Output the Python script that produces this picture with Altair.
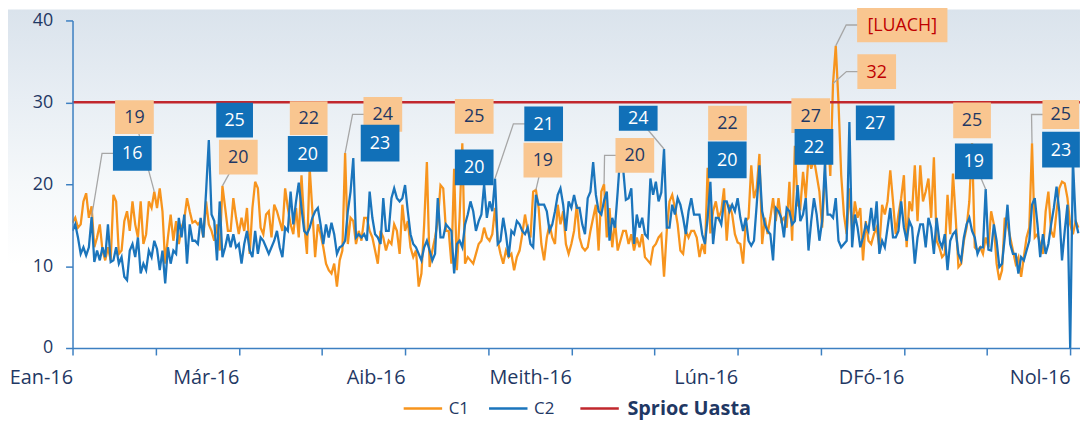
import altair as alt
import pandas as pd

# ---------------- data ----------------
c1 = [
    15.3, 15.9, 14.7, 15.1, 17.9, 18.9, 15.9, 17.3, 12.3, 13.5,
    15.1, 11.9, 10.7, 12.3, 10.7, 18.7, 17.9, 11.5, 11.9, 15.5,
    16.7, 14.3, 17.9, 15.1, 13.5, 17.9, 12.7, 13.9, 17.9, 17.1,
    19.1, 17.1, 19.5, 16.7, 10.3, 13.5, 16.3, 13.1, 15.5, 12.7,
    14.7, 15.7, 18.3, 16.7, 15.3, 15.5, 15.1, 15.5, 13.5, 17.9,
    15.1, 14.3, 13.1, 15.1, 11.9, 19.8, 17.1, 14.3, 14.3, 18.3,
    15.9, 13.9, 15.9, 14.3, 17.1, 11.5, 17.1, 20.3, 19.5, 14.7,
    13.9, 16.3, 16.7, 13.5, 17.5, 16.7, 15.5, 14.3, 19.5, 17.1,
    15.1, 13.9, 17.1, 13.5, 21.1, 15.1, 11.5, 22.0, 16.7, 11.1,
    15.1, 13.9, 12.3, 10.3, 9.5, 9.1, 10.3, 7.5, 10.7, 11.9,
    23.8, 12.7, 15.9, 15.5, 12.7, 14.3, 13.1, 15.9, 15.9, 14.3,
    13.5, 11.9, 10.3, 14.3, 13.5, 11.9, 13.1, 12.7, 15.1, 14.3,
    11.5, 17.5, 14.3, 15.5, 12.3, 11.1, 11.9, 7.5, 9.1, 15.1,
    22.7, 9.9, 11.9, 13.5, 15.5, 19.9, 19.5, 14.3, 14.3, 10.3,
    21.9, 9.5, 15.9, 25.0, 10.3, 11.1, 10.7, 10.3, 11.5, 12.7,
    13.1, 14.7, 13.5, 13.1, 13.9, 17.1, 13.1, 11.5, 10.3, 11.9,
    11.1, 11.5, 9.5, 11.1, 11.9, 13.9, 16.3, 14.3, 13.5, 19.1,
    19.3, 17.1, 12.7, 10.7, 13.5, 15.1, 13.5, 12.7, 17.5, 15.1,
    16.7, 12.7, 11.5, 12.7, 14.3, 17.5, 13.5, 12.3, 11.9, 12.3,
    14.3, 15.9, 17.5, 11.9, 19.1, 20.0, 13.5, 17.1, 12.3, 15.5,
    11.9, 13.1, 14.3, 14.3, 12.7, 13.9, 11.9, 13.5, 12.3, 13.9,
    11.1, 10.7, 10.3, 12.3, 12.7, 13.5, 13.9, 8.7, 14.3, 17.9,
    18.7, 17.1, 15.1, 11.9, 11.5, 14.3, 13.5, 14.3, 14.3, 13.5,
    11.1, 12.7, 11.5, 22.0, 14.0, 16.7, 17.9, 15.9, 16.7, 19.5,
    13.1, 17.5, 16.3, 13.9, 12.9, 12.7, 10.3, 15.5, 15.9, 22.3,
    18.3, 19.5, 23.7, 12.7, 15.9, 13.9, 15.9, 18.3, 15.5, 18.3,
    15.5, 15.9, 14.7, 20.3, 13.1, 24.7, 17.5, 17.1, 21.5, 18.3,
    23.5, 21.9, 23.1, 21.1, 19.1, 14.7, 21.1, 27.4, 21.0, 32.3,
    36.9, 30.0, 21.1, 16.3, 13.9, 19.5, 14.3, 17.9, 15.9, 17.1,
    10.7, 15.5, 13.1, 12.7, 13.9, 14.7, 12.3, 17.5, 16.3, 17.9,
    21.7, 17.9, 13.9, 16.3, 18.3, 21.1, 12.3, 17.9, 16.7, 22.3,
    15.5, 22.3, 17.9, 19.1, 20.7, 15.9, 23.3, 13.1, 12.3, 11.1,
    11.5, 18.7, 13.9, 21.3, 15.9, 9.9, 10.3, 13.1, 14.7, 17.9,
    25.0, 12.3, 11.9, 12.3, 11.5, 13.5, 12.3, 16.7, 15.1, 10.3,
    8.3, 9.5, 15.9, 15.1, 13.5, 11.9, 10.3, 11.1, 8.7, 11.1,
    13.5, 14.7, 25.0, 13.5, 13.9, 12.7, 11.5, 16.7, 19.1, 14.3,
    13.5, 16.7, 19.5, 20.3, 20.1, 18.3, 15.1, 13.9, 15.5, 14.7,
]

c2 = [
    14.3, 15.1, 13.5, 11.5, 12.3, 11.3, 12.3, 16.0, 10.5, 11.9,
    10.7, 12.3, 11.1, 15.1, 10.5, 10.7, 12.3, 10.3, 11.1, 8.7,
    8.3, 11.9, 12.7, 11.1, 13.5, 9.1, 10.3, 9.5, 11.9, 11.1,
    13.1, 12.1, 9.5, 11.9, 7.9, 12.3, 10.3, 11.9, 11.5, 15.9,
    13.5, 16.3, 10.3, 15.1, 13.1, 13.1, 12.7, 15.9, 13.5, 19.1,
    25.4, 16.3, 15.5, 10.7, 17.9, 11.1, 12.3, 13.9, 12.3, 13.9,
    12.3, 12.7, 10.3, 12.7, 14.3, 11.9, 11.1, 14.3, 11.5, 13.5,
    13.1, 12.3, 11.5, 12.3, 13.1, 14.3, 12.3, 11.1, 14.7, 14.3,
    19.1, 15.1, 17.9, 20.2, 17.1, 14.3, 13.9, 14.7, 15.9, 16.7,
    17.1, 15.1, 12.7, 15.1, 13.5, 15.3, 13.9, 11.5, 12.3, 12.5,
    13.1, 16.7, 19.1, 23.2, 13.5, 13.9, 13.5, 13.9, 13.1, 19.1,
    15.9, 13.9, 13.5, 12.7, 18.3, 14.3, 14.3, 18.3, 19.5, 18.3,
    17.9, 18.3, 19.9, 16.7, 13.9, 12.7, 12.3, 11.5, 10.7, 12.3,
    13.1, 11.9, 10.7, 11.5, 18.3, 13.5, 13.5, 15.1, 14.7, 14.3,
    9.1, 12.7, 13.1, 12.3, 15.1, 16.3, 17.9, 16.7, 14.3, 15.5,
    16.3, 20.0, 15.9, 17.9, 16.7, 20.7, 12.7, 13.1, 15.9, 13.9,
    11.1, 14.3, 13.9, 15.5, 15.1, 14.3, 13.9, 14.7, 12.7, 12.3,
    18.7, 17.5, 17.5, 17.5, 16.7, 14.3, 15.1, 16.7, 18.7, 19.5,
    17.5, 14.3, 17.9, 17.1, 18.7, 17.1, 17.1, 15.1, 13.9, 18.3,
    19.1, 22.7, 18.7, 16.7, 16.3, 18.0, 19.1, 13.1, 15.9, 14.7,
    19.1, 23.9, 21.9, 18.1, 18.3, 19.5, 12.7, 16.3, 14.7, 15.9,
    13.9, 13.5, 20.7, 18.7, 20.3, 17.9, 19.0, 24.3, 14.7, 14.7,
    17.5, 16.3, 18.3, 17.5, 15.9, 13.9, 16.7, 18.3, 16.3, 16.3,
    16.3, 13.9, 12.7, 15.9, 20.3, 12.7, 15.9, 15.9, 15.1, 17.9,
    17.9, 16.7, 17.5, 16.7, 18.3, 15.9, 14.3, 15.9, 13.1, 12.5,
    13.1, 17.5, 22.3, 16.7, 15.1, 14.3, 13.9, 10.7, 17.1, 16.7,
    15.9, 13.5, 17.1, 16.7, 15.1, 15.5, 19.9, 15.5, 16.3, 18.3,
    11.9, 15.5, 18.3, 16.3, 13.1, 15.5, 22.5, 16.3, 16.3, 15.9,
    18.3, 13.1, 12.3, 12.7, 13.1, 27.6, 12.3, 16.3, 14.7, 12.3,
    13.5, 15.1, 14.3, 17.1, 14.3, 17.9, 11.5, 13.1, 12.3, 14.7,
    17.1, 13.5, 13.5, 14.3, 17.9, 14.7, 13.1, 15.5, 14.7, 10.3,
    13.5, 15.1, 15.1, 12.3, 15.9, 14.7, 11.5, 15.9, 13.1, 12.3,
    13.9, 9.5, 13.1, 13.9, 14.3, 11.5, 10.7, 13.5, 15.1, 15.9,
    14.3, 13.5, 11.5, 12.3, 12.3, 19.4, 12.0, 11.9, 15.1, 13.1,
    9.9, 10.3, 13.5, 17.5, 12.7, 11.5, 11.5, 9.1, 11.1, 10.7,
    11.9, 13.1, 17.5, 18.3, 15.1, 11.1, 13.9, 11.5, 12.7, 15.1,
    17.1, 19.7, 16.7, 10.7, 14.3, 17.5, 0.0, 23.0, 15.5, 14.0,
]

target_value = 30
series_names = ["C1", "C2"]
target_name = "Sprioc Uasta"
tick_labels = ["Ean-16", "Már-16", "Aib-16", "Meith-16", "Lún-16", "DFó-16", "Nol-16"]
y_ticks = [0, 10, 20, 30, 40]

# data labels: (series, day, text)
label_points = [
    ("C1", 30, "19"), ("C1", 55, "20"), ("C1", 87, "22"), ("C1", 100, "24"),
    ("C1", 143, "25"), ("C1", 170, "19"), ("C1", 195, "20"), ("C1", 233, "22"),
    ("C1", 277, "27"), ("C1", 280, "[LUACH]"), ("C1", 279, "32"), ("C1", 330, "25"),
    ("C1", 352, "25"),
    ("C2", 7, "16"), ("C2", 50, "25"), ("C2", 83, "20"), ("C2", 103, "23"),
    ("C2", 151, "20"), ("C2", 155, "21"), ("C2", 217, "24"), ("C2", 234, "20"),
    ("C2", 276, "22"), ("C2", 285, "27"), ("C2", 335, "19"), ("C2", 367, "23"),
]

# ---------------- layout / style ----------------
W, H = 1015, 330
X_MAX = 369.6
Y_MAX = 40
PXD = W / X_MAX
PXU = H / Y_MAX

ORANGE = "#F7941D"
BLUE = "#1B75BC"
RED = "#C1272D"
BOX_OR = "#F9C690"
BOX_BL = "#1170B8"
NAVY = "#1F3864"
LABEL_RED = "#C00000"
GRAY = "#A6A6A6"
AXIS = "#3C7FC1"
FONT = "Open Sans"

# label layout: (dx, dy) box centre offset in px, box w, h, leader type
label_layout = [
    (-20, -75, 39, 34, "direct"), (16, -29, 39, 35, "direct"), (-1, -50, 38, 34, None),
    (38, -39, 39, 35, "elbow"), (12, -27, 39, 35, None), (7, -30, 39, 35, "direct"),
    (31, -29, 39, 35, "elbow"), (20, -45, 39, 35, None), (-17, -8, 39, 35, None),
    (67, -21, 91, 35, "elbow"), (44, -12, 39, 35, "elbow"), (0, -23, 38, 36, None),
    (29, -29, 37, 29, "elbow"),
    (41, -64, 39, 35, "elbow"), (26, -20, 37, 35, None), (9, -29, 40, 36, None),
    (27, -15, 39, 37, None), (-10, -17, 39, 36, None), (49, -55, 39, 35, "elbow"),
    (-26, -31, 39, 25, "direct"), (17, -22, 39, 37, None), (-11, -17, 39, 36, None),
    (26, 1, 39, 35, None), (-12, -28, 38, 36, "direct"), (-12, -10, 38, 36, None),
]

# ---------------- build tables ----------------
n = len(c1)
df = pd.DataFrame({
    "day": list(range(n)) * 2,
    "value": c1 + c2,
    "series": ["C1"] * n + ["C2"] * len(c2),
})
target_df = pd.DataFrame({"series": [target_name], "value": [target_value]})

vals = {"C1": c1, "C2": c2}
box_rows, lead_rows = [], []
for i, ((s, d, txt), (dx, dy, bw, bh, lead)) in enumerate(zip(label_points, label_layout)):
    v = vals[s][d]
    cx = d + dx / PXD
    cy = v - dy / PXU
    fill = BOX_OR if s == "C1" else BOX_BL
    if s == "C2":
        tcol = "white"
    elif txt in ("[LUACH]", "32"):
        tcol = LABEL_RED
    else:
        tcol = NAVY
    box_rows.append({
        "id": i, "text": txt, "cx": cx, "cy": cy,
        "x1": cx - bw / 2 / PXD, "x2": cx + bw / 2 / PXD,
        "y1": cy - bh / 2 / PXU, "y2": cy + bh / 2 / PXU,
        "fill": fill, "tcol": tcol,
    })
    if lead:
        pts = [(cx, cy)]
        if lead == "elbow":
            pts.append((cx - (bw / 2 + 11) / PXD, cy))
        pts.append((d, v))
        for k, (px, py) in enumerate(pts):
            lead_rows.append({"id": i, "k": k, "lx": px, "ly": py})
box_df = pd.DataFrame(box_rows)
lead_df = pd.DataFrame(lead_rows)

x_scale = alt.Scale(domain=[0, X_MAX], nice=False, zero=False)
y_scale = alt.Scale(domain=[0, Y_MAX], nice=False)

tick_vals = [i * 30.5 for i in range(13)]
lab_arr = []
for i in range(13):
    lab_arr.append(tick_labels[i // 2] if i % 2 == 0 else "")
label_expr = "[" + ",".join("'" + t + "'" for t in lab_arr) + "][round(datum.value/30.5)]"

x_axis = alt.Axis(values=tick_vals, labelExpr=label_expr, title=None, grid=False,
                  labelAlign="right", labelOverlap=False, labelFlush=False,
                  labelPadding=13, tickSize=7, labelFontSize=20, zindex=1)
y_axis = alt.Axis(values=y_ticks, title=None, grid=False, tickSize=7, labelPadding=13,
                  labelFontSize=18, zindex=1)

# ---------------- layers ----------------
bg = alt.Chart(pd.DataFrame({"a": [0]})).mark_rect(
    color=alt.Gradient(
        gradient="linear",
        stops=[alt.GradientStop(color="#DAE3EC", offset=0),
               alt.GradientStop(color="#E8EEF4", offset=0.22),
               alt.GradientStop(color="#F5F8FA", offset=0.42),
               alt.GradientStop(color="#FFFFFF", offset=0.62)],
        x1=0, x2=0, y1=0, y2=1),
).encode(x=alt.value(-65), x2=alt.value(W), y=alt.value(-11), y2=alt.value(H + 74))

lines = alt.Chart(df).mark_line(strokeWidth=2.3, clip=True).encode(
    x=alt.X("day:Q", scale=x_scale, axis=x_axis),
    y=alt.Y("value:Q", scale=y_scale, axis=y_axis),
    color=alt.Color("series:N",
                    scale=alt.Scale(domain=series_names, range=[ORANGE, BLUE]),
                    legend=alt.Legend(orient="none", legendX=332, legendY=370,
                                      direction="horizontal", title=None,
                                      symbolType="stroke", symbolSize=1500,
                                      symbolStrokeWidth=2.5, labelFont=FONT,
                                      labelFontSize=17, labelColor=NAVY,
                                      columnPadding=14, labelOffset=5)),
)

rule = alt.Chart(target_df).mark_rule(strokeWidth=2.5).encode(
    y=alt.Y("value:Q", scale=y_scale),
    color=alt.Color("series:N",
                    scale=alt.Scale(domain=[target_name], range=[RED]),
                    legend=alt.Legend(orient="none", legendX=510, legendY=370,
                                      direction="horizontal", title=None,
                                      symbolType="stroke", symbolSize=1500,
                                      symbolStrokeWidth=2.5, labelFont=FONT,
                                      labelFontSize=20, labelColor=NAVY,
                                      labelFontWeight="bold", labelOffset=7)),
)

leaders = alt.Chart(lead_df).mark_line(strokeWidth=1.3, color=GRAY).encode(
    x=alt.X("lx:Q", scale=x_scale),
    y=alt.Y("ly:Q", scale=y_scale),
    detail="id:N",
    order="k:Q",
)

boxes = alt.Chart(box_df).mark_rect().encode(
    x=alt.X("x1:Q", scale=x_scale), x2="x2:Q",
    y=alt.Y("y1:Q", scale=y_scale), y2="y2:Q",
    color=alt.Color("fill:N", scale=None),
)

texts = alt.Chart(box_df).mark_text(font=FONT, fontSize=18, align="center",
                                    baseline="middle", dy=1).encode(
    x=alt.X("cx:Q", scale=x_scale),
    y=alt.Y("cy:Q", scale=y_scale),
    text="text:N",
    color=alt.Color("tcol:N", scale=None),
)

chart = alt.layer(bg, lines, rule, leaders, boxes, texts).resolve_scale(
    color="independent"
).properties(
    width=W, height=H,
    autosize=alt.AutoSizeParams(type="none"),
    padding={"left": 65, "top": 11, "right": 0, "bottom": 74},
).configure_view(stroke=None).configure(background="white").configure_axis(
    domainColor=AXIS, domainWidth=1.5, tickColor=AXIS, tickWidth=1.5,
    labelFont=FONT, labelColor=NAVY,
)

chart.save("out.html", embed_options={"renderer": "svg", "actions": False})
